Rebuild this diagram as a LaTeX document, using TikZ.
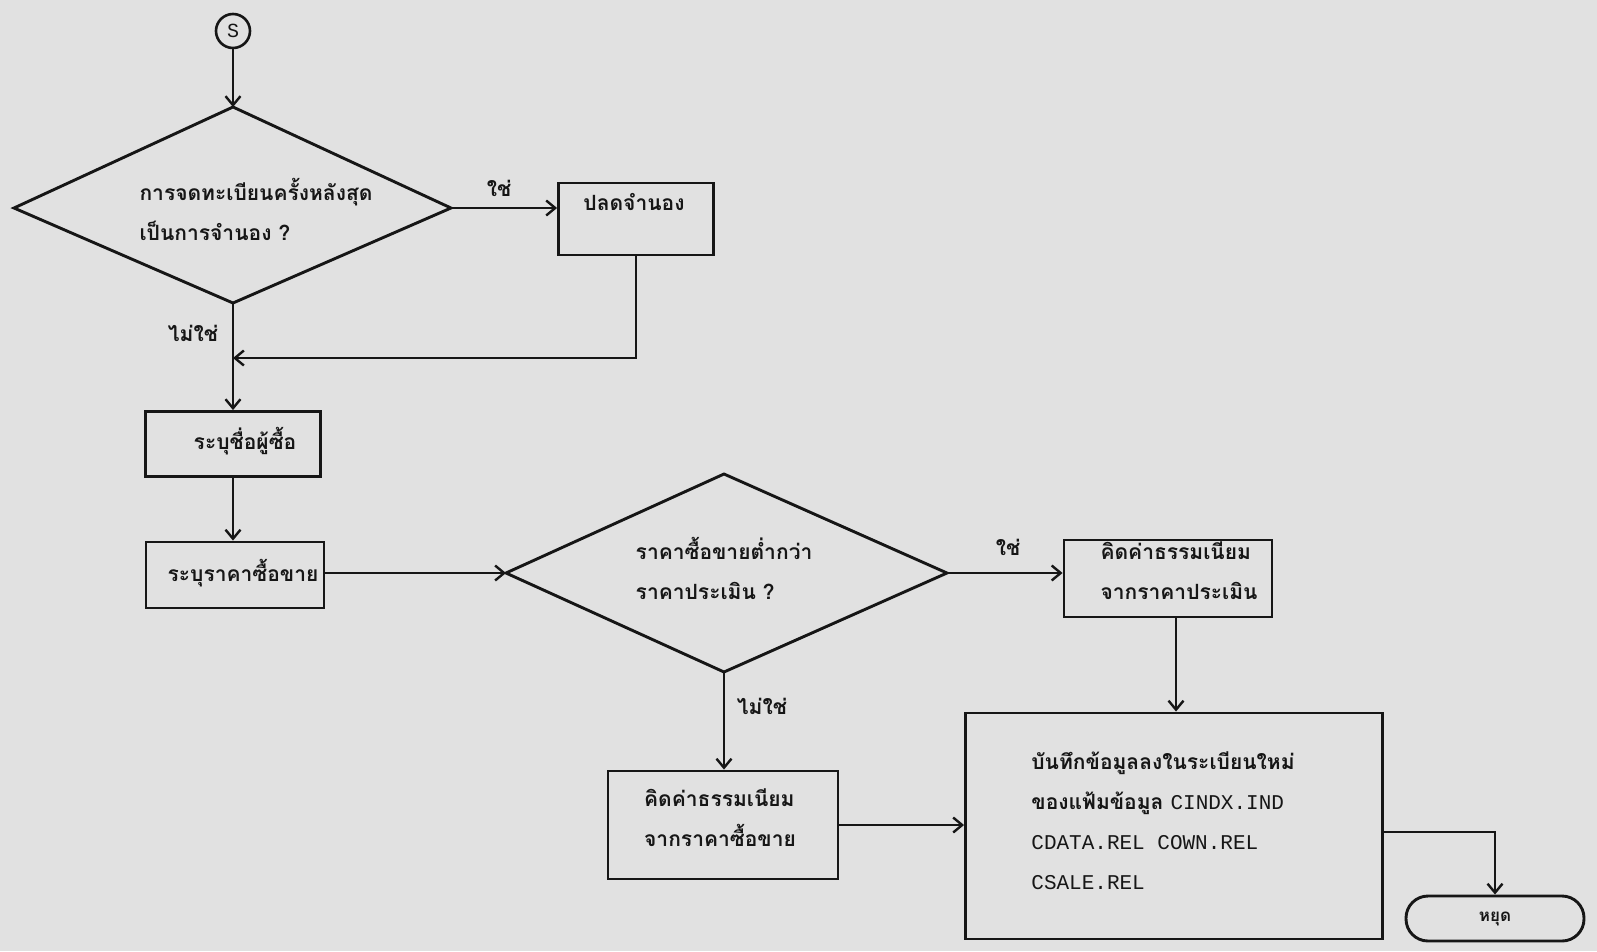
\documentclass[tikz,border=0pt]{standalone}
\usepackage{fontspec}
\usetikzlibrary{arrows.meta,calc}
\newfontfamily\thai[Script=Thai]{Loma}
\newfontfamily\lat{Liberation Mono}
\definecolor{paper}{RGB}{225,225,225}
\definecolor{ink}{RGB}{22,22,22}
\tikzset{
  box/.style={draw=ink, line width=2.9pt, inner sep=0pt},
  txt/.style={text=ink, font=\thai\bfseries\fontsize{21}{40}\selectfont, align=left, inner sep=0pt},
  arr/.style={draw=ink, line width=2.7pt, -{Straight Barb[length=9pt,width=15pt,line width=2.4pt]}},
  ln/.style={draw=ink, line width=2.9pt},
}
\begin{document}
\begin{tikzpicture}[x=1pt,y=-1pt]
\fill[paper] (0,0) rectangle (1597,951);
\useasboundingbox (0,0) rectangle (1597,951);
% start
\node[circle, draw=ink, line width=2.6pt, minimum size=34pt, inner sep=0pt, text=ink, font=\lat\fontsize{20}{22}\selectfont] (s) at (233,31) {S};
% diamond 1
\coordinate (d1t) at (233,107);
\coordinate (d1b) at (233,303);
\coordinate (d1l) at (14,208);
\coordinate (d1r) at (451,208);
\draw[ln, line join=miter] (d1t) -- (d1r) -- (d1b) -- (d1l) -- cycle;
\node[txt] (d1txt) at (256,209) {การจดทะเบียนครั้งหลังสุด\\เป็นการจำนอง ?};
\draw[arr] (s.south) -- (d1t);
% release box
\node[box, minimum width=155pt, minimum height=72pt] (b1) at (636,219) {};
\node[txt] (b1txt) at (634,202) {ปลดจำนอง};
\node[txt] (yes1) at (499,188) {ใช่};
\draw[arr] (d1r) -- (d1r -| b1.west);
\coordinate (j1) at (233,358);
\draw[arr] (b1.south) |- (j1);
\node[txt] (no1) at (193,333) {ไม่ใช่};
% buyer
\node[box, minimum width=175pt, minimum height=65pt] (b2) at (233,444) {};
\node[txt] (b2txt) at (245,441) {ระบุชื่อผู้ซื้อ};
\draw[arr] (d1b) -- (b2.north);
\node[box, minimum width=178pt, minimum height=66pt] (b3) at (235,575) {};
\node[txt] (b3txt) at (243,573) {ระบุราคาซื้อขาย};
\draw[arr] (b2.south) -- (b2.south |- b3.north);
% diamond 2
\coordinate (d2t) at (724,474);
\coordinate (d2b) at (724,672);
\coordinate (d2l) at (506,573);
\coordinate (d2r) at (947,573);
\draw[ln, line join=miter] (d2t) -- (d2r) -- (d2b) -- (d2l) -- cycle;
\node[txt] (d2txt) at (724,568) {ราคาซื้อขายต่ำกว่า\\ราคาประเมิน ?};
\draw[arr] (b3.east |- d2l) -- (d2l);
\node[txt] (yes2) at (1008,547) {ใช่};
\node[box, minimum width=208pt, minimum height=77pt] (b4) at (1168,578.5) {};
\node[txt] (b4txt) at (1179,571) {คิดค่าธรรมเนียม\\จากราคาประเมิน};
\draw[arr] (d2r) -- (d2r -| b4.west);
% no branch
\node[txt] (no2) at (762,706) {ไม่ใช่};
\node[box, minimum width=230pt, minimum height=108pt] (b5) at (723,825) {};
\node[txt] (b5txt) at (720,818) {คิดค่าธรรมเนียม\\จากราคาซื้อขาย};
\draw[arr] (d2b) -- (d2b |- b5.north);
% record box
\node[box, minimum width=417pt, minimum height=226pt] (b6) at (1174,826) {};
\node[txt] (b6txt) at (1163,821) {บันทึกข้อมูลลงในระเบียนใหม่\\ของแฟ้มข้อมูล {\lat\mdseries\fontsize{21}{40}\selectfont CINDX.IND}\\{\lat\mdseries\fontsize{21}{40}\selectfont CDATA.REL COWN.REL}\\{\lat\mdseries\fontsize{21}{40}\selectfont CSALE.REL}};
\draw[arr] ([xshift=8pt]b4.south) -- ([xshift=8pt]b4.south |- b6.north);
\draw[arr] (b5.east) -- (b5.east -| b6.west);
% stop
\node[draw=ink, line width=2.9pt, rounded corners=22pt, minimum width=178pt, minimum height=45pt, inner sep=0pt, text=ink, font=\thai\bfseries\fontsize{17}{20}\selectfont] (stop) at (1495,918.5) {หยุด};
\draw[arr] ([yshift=-6pt]b6.east) -| (stop.north);
\end{tikzpicture}
\end{document}
